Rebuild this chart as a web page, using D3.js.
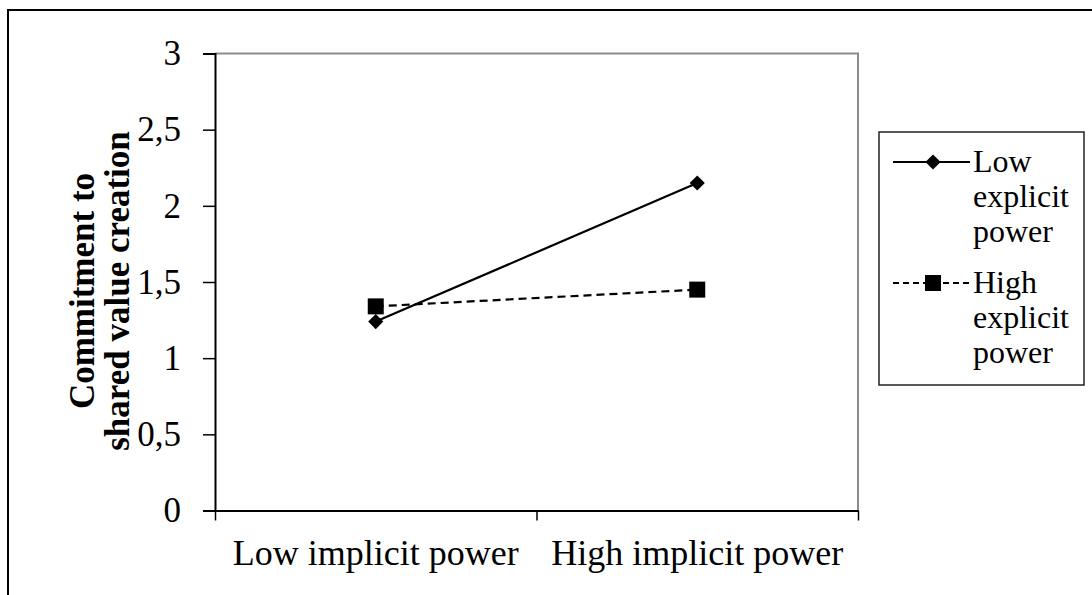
<!DOCTYPE html>
<html>
<head>
<meta charset="utf-8">
<script src="https://cdn.jsdelivr.net/npm/d3@7"></script>
<style>
  body { margin: 0; background: #fff; }
  svg { display: block; font-family: "Liberation Serif", "Times New Roman", serif; }
</style>
</head>
<body>
<svg class="chart" width="1092" height="595"></svg>
<script>
// data
let categories = ["Low implicit power", "High implicit power"];
let seriesNames = ["Low explicit power", "High explicit power"];
let lowExplicit = [1.24, 2.15];
let highExplicit = [1.34, 1.45];
let yTicks = [0, 0.5, 1, 1.5, 2, 2.5, 3];

let svg = d3.select("svg.chart");

let margin = {top: 53.5, right: 234, bottom: 84.5, left: 215};
let width = 1092, height = 595;
let plotWidth = width - margin.left - margin.right;
let plotHeight = height - margin.top - margin.bottom;

// outer frame
svg.append("rect")
  .attr("x", 8).attr("y", 10)
  .attr("width", 1200).attr("height", 700)
  .attr("fill", "none").attr("stroke", "#000").attr("stroke-width", 2);

let plot = svg.append("g").attr("transform", translate(margin.left, margin.top));

let x = d3.scaleBand().domain(categories).range([0, plotWidth]).padding(0);
let y = d3.scaleLinear().domain([0, 3]).range([plotHeight, 0]);

// grey plot-area border (top / right)
plot.append("path")
  .attr("d", "M0,0H" + plotWidth + "V" + plotHeight)
  .attr("fill", "none").attr("stroke", "#8c8c8c").attr("stroke-width", 2);

// y axis
let yAxis = d3.axisLeft(y).tickValues(yTicks).tickSize(12).tickPadding(22)
  .tickFormat(d => String(d).replace(".", ","));
let yGroup = plot.append("g").call(yAxis);
yGroup.select(".domain").attr("stroke-width", 2);
yGroup.selectAll(".tick line").attr("stroke-width", 1.5);
yGroup.selectAll("text").attr("font-size", 35).attr("font-family", "Liberation Serif").attr("fill", "#000");

// x axis: ticks on band edges, labels in band centres
let xEdges = d3.scaleLinear().domain([0, categories.length]).range([0, plotWidth]);
let xAxis = d3.axisBottom(xEdges).tickValues(d3.range(categories.length + 1))
  .tickSize(10).tickSizeOuter(0).tickFormat("");
let xGroup = plot.append("g").attr("transform", translate(0, plotHeight)).call(xAxis);
xGroup.select(".domain").attr("stroke-width", 2);
xGroup.selectAll(".tick line").attr("stroke-width", 1.5);

plot.selectAll(".x-label")
  .data(categories)
  .enter().append("text")
  .attr("class", "x-label")
  .attr("x", d => x(d) + x.bandwidth() / 2)
  .attr("y", plotHeight + 54)
  .attr("text-anchor", "middle")
  .attr("font-size", 36)
  .text(d => d);

// y axis title
let yTitle = svg.append("text")
  .attr("transform", translate(0, 291) + " rotate(-90)")
  .attr("text-anchor", "middle")
  .attr("font-weight", "bold")
  .attr("font-size", 35);
yTitle.append("tspan").attr("x", 0).attr("y", 94).text("Commitment to");
yTitle.append("tspan").attr("x", 0).attr("y", 129).text("shared value creation");

// lines
let line = d3.line()
  .x((d, i) => x(categories[i]) + x.bandwidth() / 2)
  .y(d => y(d));

plot.append("path").datum(lowExplicit)
  .attr("d", line).attr("fill", "none")
  .attr("stroke", "#000").attr("stroke-width", 2.2);

plot.append("path").datum(highExplicit)
  .attr("d", line).attr("fill", "none")
  .attr("stroke", "#000").attr("stroke-width", 2.2)
  .attr("stroke-dasharray", "8,5");

let diamond = d3.symbol().type(d3.symbolSquare).size(115);
let square = d3.symbol().type(d3.symbolSquare).size(256);

plot.selectAll(".m-low").data(lowExplicit).enter().append("path")
  .attr("class", "m-low")
  .attr("d", diamond)
  .attr("transform", (d, i) => translate(x(categories[i]) + x.bandwidth() / 2, y(d)) + " rotate(45)")
  .attr("fill", "#000");

plot.selectAll(".m-high").data(highExplicit).enter().append("path")
  .attr("class", "m-high")
  .attr("d", square)
  .attr("transform", (d, i) => translate(x(categories[i]) + x.bandwidth() / 2, y(d)))
  .attr("fill", "#000");

// legend
let legend = svg.append("g").attr("transform", translate(879, 132));
legend.append("rect")
  .attr("width", 205).attr("height", 253)
  .attr("fill", "#fff").attr("stroke", "#222").attr("stroke-width", 1.5);

let legendWords = [["Low", "explicit", "power"], ["High", "explicit", "power"]];
let legendY = [30, 151];

legendWords.forEach(function(words, k) {
  let g = legend.append("g").attr("transform", translate(0, legendY[k]));
  g.append("line")
    .attr("x1", 14).attr("x2", 91)
    .attr("stroke", "#000").attr("stroke-width", 2.2)
    .attr("stroke-dasharray", k === 1 ? "6,4" : null);
  g.append("path")
    .attr("d", k === 0 ? diamond : square)
    .attr("transform", translate(54, 0) + (k === 0 ? " rotate(45)" : ""))
    .attr("fill", "#000");
  let t = g.append("text").attr("x", 94).attr("y", 10).attr("font-size", 32);
  words.forEach(function(w, j) {
    t.append("tspan").attr("x", 94).attr("dy", j === 0 ? 0 : 35).text(w);
  });
});

function translate(x, y) {
  return "translate(" + x + "," + y + ")";
}
</script>
</body>
</html>
